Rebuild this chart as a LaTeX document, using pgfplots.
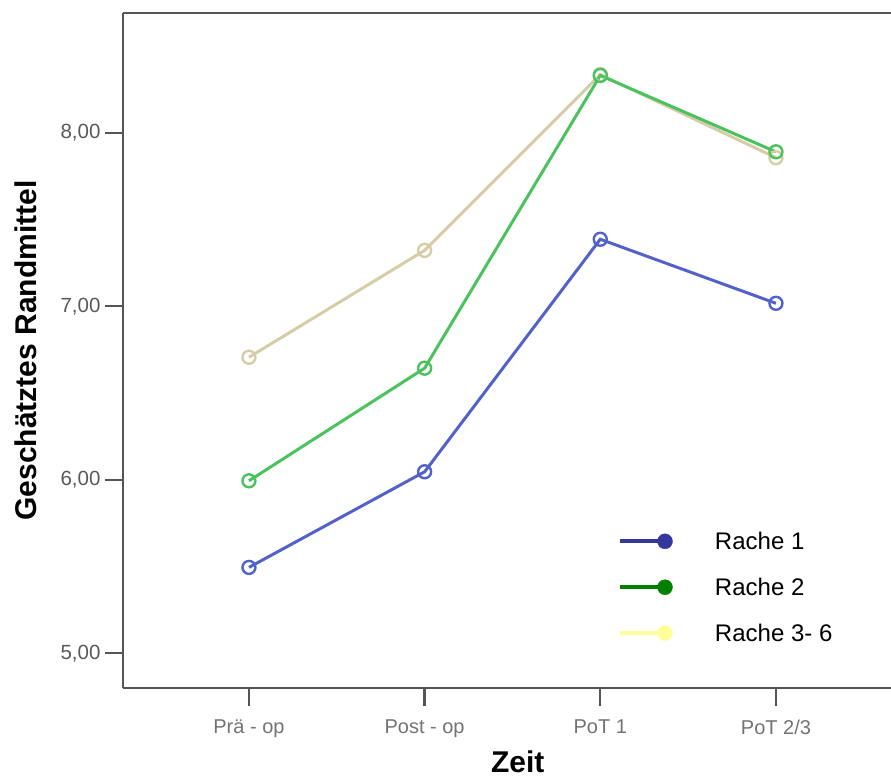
\documentclass[border=0pt]{standalone}
\usepackage{fontspec}
\setmainfont{Liberation Sans}
\usepackage{pgfplots}
\pgfplotsset{compat=1.18}
\definecolor{c1}{HTML}{5262C8}
\definecolor{c2}{HTML}{4CC25E}
\definecolor{c3}{HTML}{D6CCA8}
\definecolor{l1}{HTML}{34389C}
\definecolor{l2}{HTML}{008000}
\definecolor{l3}{HTML}{FFFF9A}
\definecolor{axgray}{HTML}{555555}
\begin{document}
\begin{tikzpicture}
\begin{axis}[
  scale only axis, width=768bp, height=675bp,
  at={(0,0)}, anchor=south west,
  xmin=-0.717, xmax=3.655, ymin=4.80, ymax=8.69,
  axis x line*=bottom, axis y line*=left,
  axis line style={-, draw=axgray, line width=2.8bp},
  xtick={0,1,2,3},
  xticklabels={Prä - op, Post - op, PoT 1, PoT 2/3},
  ytick={5,6,7,8},
  yticklabels={{5,00},{6,00},{7,00},{8,00}},
  tick align=outside, major tick length=18bp,
  tick style={draw=axgray, line width=2.4bp},
  xticklabel style={font=\fontsize{20bp}{22bp}\selectfont, text=black!55, yshift=-10bp},
  yticklabel style={font=\fontsize{20.5bp}{22bp}\selectfont, text=black!65, xshift=-1bp},
  xlabel={\textbf{Zeit}},
  ylabel={\textbf{Geschätztes Randmittel}},
  xlabel style={font=\fontsize{30bp}{32bp}\selectfont, at={(axis description cs:0.514,-0.110)}, anchor=center},
  ylabel style={font=\fontsize{30bp}{32bp}\selectfont, at={(axis description cs:-0.1263,0.5)}, anchor=center, rotate=0},
  clip=false,
  legend cell align=left,
  legend style={draw=none, fill=none, at={(axis description cs:0.6405,0.236)}, anchor=north west,
    font=\fontsize{24bp}{26bp}\selectfont, row sep=25bp,
    nodes={inner sep=1bp}},
]
\draw[axgray, line width=2.8bp] (rel axis cs:0,1) -- (rel axis cs:1,1);
\addlegendimage{legend image code/.code={\draw[l1, line width=3.8bp] (0bp,0bp) -- (45bp,0bp); \fill[l1] (45bp,0bp) circle (7.5bp); \path[draw=none, fill=none] (0bp,0bp) -- (94bp,0bp);}}
\addlegendentry{Rache 1}
\addlegendimage{legend image code/.code={\draw[l2, line width=3.8bp] (0bp,0bp) -- (45bp,0bp); \fill[l2] (45bp,0bp) circle (7.5bp); \path[draw=none, fill=none] (0bp,0bp) -- (94bp,0bp);}}
\addlegendentry{Rache 2}
\addlegendimage{legend image code/.code={\draw[l3, line width=3.8bp] (0bp,0bp) -- (45bp,0bp); \fill[l3] (45bp,0bp) circle (7.5bp); \path[draw=none, fill=none] (0bp,0bp) -- (94bp,0bp);}}
\addlegendentry{Rache 3- 6}
\addplot[forget plot, c1, line width=3bp, mark=o, mark size=6.5bp, mark options={line width=2.4bp}]
  coordinates {(0,5.495) (1,6.046) (2,7.386) (3,7.017)};
\addplot[forget plot, c3, line width=3bp, mark=o, mark size=6.5bp, mark options={line width=2.4bp}]
  coordinates {(0,6.706) (1,7.322) (2,8.335) (3,7.856)};
\addplot[forget plot, c2, line width=3bp, mark=o, mark size=6.5bp, mark options={line width=2.4bp}]
  coordinates {(0,5.994) (1,6.643) (2,8.33) (3,7.89)};
\end{axis}
\pgfresetboundingbox
\path[use as bounding box] (-123bp,-91bp) rectangle (768bp,688bp);
\end{tikzpicture}
\end{document}
